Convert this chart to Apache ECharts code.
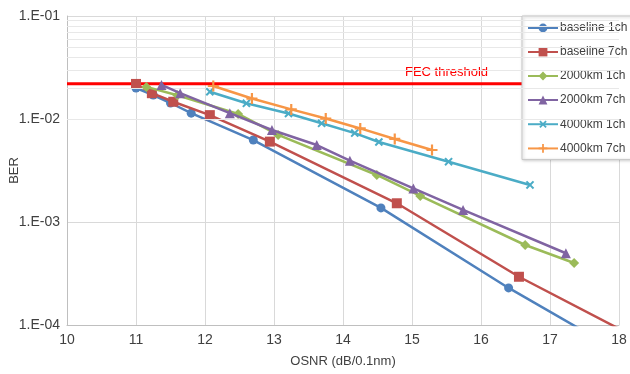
<!DOCTYPE html>
<html><head><meta charset="utf-8">
<script src="https://cdn.jsdelivr.net/npm/echarts/dist/echarts.min.js"></script>
<style>html,body{margin:0;padding:0;background:#fff}#c{width:630px;height:374px}</style>
</head><body><div id="c"></div>
<script>
// ---- data ----
const seriesNames = ['baseline 1ch','baseline 7ch','2000km 1ch','2000km 7ch','4000km 1ch','4000km 7ch'];
const baseline1chX = [11.0, 11.25, 11.5, 11.8, 12.7, 14.55, 16.4, 17.6];
const baseline1chY = [0.0200, 0.0171, 0.0143, 0.0114, 0.00625, 0.00137, 0.000229, 0.000079];
const baseline7chX = [11.0, 11.23, 11.54, 12.07, 12.94, 14.78, 16.55, 18.0];
const baseline7chY = [0.0219, 0.0178, 0.0147, 0.0109, 0.00603, 0.00152, 0.000294, 0.000092];
const km2000_1chX = [11.15, 11.6, 12.48, 13.06, 14.49, 15.12, 16.64, 17.35];
const km2000_1chY = [0.0205, 0.0170, 0.0112, 0.0070, 0.00286, 0.00179, 0.000598, 0.000400];
const km2000_7chX = [11.37, 11.64, 12.36, 12.97, 13.62, 14.10, 15.02, 15.74, 17.23];
const km2000_7chY = [0.0214, 0.0178, 0.0114, 0.00782, 0.00559, 0.00394, 0.00212, 0.00131, 0.000497];
const km4000_1chX = [12.07, 12.60, 13.21, 13.69, 14.17, 14.52, 15.53, 16.71];
const km4000_1chY = [0.0184, 0.0142, 0.0113, 0.00908, 0.0073, 0.00598, 0.00385, 0.00229];
const km4000_7chX = [12.12, 12.68, 13.25, 13.75, 14.25, 14.75, 15.29];
const km4000_7chY = [0.0209, 0.0158, 0.0124, 0.0101, 0.0081, 0.0064, 0.0050];
const fecThreshold = 0.022;
const fecLabel = 'FEC threshold';
const fecLabelX = 15.5;
const xTickLabels = ['10','11','12','13','14','15','16','17','18'];
const yTickLabels = ['1.E-04','1.E-03','1.E-02','1.E-01'];
const minorMultipliers = [2,3,4,5,6,7,8,9];
const minorDecades = [1e-4, 1e-3, 1e-2];

// ---- styling ----
const colors = ['#4F81BD','#C0504D','#9BBB59','#8064A2','#4BACC6','#F79646'];
const plusPath = 'path://M4,0H6V4H10V6H6V10H4V6H0V4H4Z';
const symbols = ['circle','rect','diamond','triangle', plusPath, plusPath];
const symbolRot = [0,0,0,0,45,0];
const symbolSizes = [9,10,10,10,10,11];
const xs = [baseline1chX, baseline7chX, km2000_1chX, km2000_7chX, km4000_1chX, km4000_7chX];
const ys = [baseline1chY, baseline7chY, km2000_1chY, km2000_7chY, km4000_1chY, km4000_7chY];
const FONT = 'Liberation Sans';

const minorVals = [];
minorDecades.forEach(d => minorMultipliers.forEach(m => minorVals.push(m * d)));

const series = [];
series.push({
  name: 'minorGrid', type: 'line', data: [], z: 1, silent: true,
  markLine: {
    silent: true, symbol: 'none', animation: false,
    label: {show: false},
    lineStyle: {color: '#e8e8e8', width: 1, type: 'solid'},
    data: minorVals.map(v => ({yAxis: v}))
  }
});
series.push({
  name: 'FEC', type: 'line', z: 2, silent: true,
  symbol: 'circle', symbolSize: 0,
  lineStyle: {color: '#FF0000', width: 3},
  itemStyle: {color: '#FF0000'},
  data: [
    [xTickLabels[0]*1, fecThreshold],
    {value: [fecLabelX, fecThreshold], label: {show: true, position: 'top', distance: 5, formatter: fecLabel, color: '#FF0000', fontSize: 13, fontFamily: FONT}},
    [xTickLabels[xTickLabels.length-1]*1, fecThreshold]
  ]
});
seriesNames.forEach((n, i) => {
  series.push({
    name: n, type: 'line', z: 3 + i,
    data: xs[i].map((x, k) => [x, ys[i][k]]),
    symbol: symbols[i], symbolSize: symbolSizes[i], symbolRotate: symbolRot[i],
    showAllSymbol: true,
    lineStyle: {color: colors[i], width: 2.5},
    itemStyle: {color: colors[i]},
    emphasis: {disabled: true},
    clip: true
  });
});

const chart = echarts.init(document.getElementById('c'), null, {renderer: 'canvas'});
chart.setOption({
  animation: false,
  backgroundColor: '#ffffff',
  textStyle: {fontFamily: FONT},
  grid: {left: 67, right: 11, top: 16, bottom: 49, containLabel: false, outerBoundsMode: 'none'},
  legend: {
    data: seriesNames,
    orient: 'vertical',
    left: 522, top: 16,
    itemWidth: 30, itemHeight: 11, itemGap: 12,
    padding: [6, 6, 5, 5],
    backgroundColor: '#ffffff',
    borderColor: '#c8c8c8', borderWidth: 1,
    shadowColor: 'rgba(0,0,0,0.25)', shadowBlur: 3, shadowOffsetX: 1, shadowOffsetY: 1,
    textStyle: {color: '#404040', fontSize: 12, fontFamily: FONT, padding: [0,0,0,-3]},
    selectedMode: false
  },
  xAxis: {
    type: 'value', min: 10, max: 18, interval: 1,
    name: 'OSNR (dB/0.1nm)', nameLocation: 'middle', nameGap: 30, nameMoveOverlap: false,
    nameTextStyle: {color: '#404040', fontSize: 13, fontFamily: FONT},
    axisLine: {show: true, lineStyle: {color: '#bfbfbf', width: 1}},
    axisTick: {show: false},
    axisLabel: {color: '#404040', fontSize: 14, fontFamily: FONT, margin: 8,
      formatter: v => xTickLabels[Math.round(v - 10)]},
    splitLine: {show: true, lineStyle: {color: '#d9d9d9', width: 1}}
  },
  yAxis: {
    type: 'log', logBase: 10, min: 1e-4, max: 1e-1,
    name: 'BER', nameLocation: 'middle', nameGap: 46, nameMoveOverlap: false,
    nameTextStyle: {color: '#404040', fontSize: 13, fontFamily: FONT},
    axisLine: {show: true, lineStyle: {color: '#bfbfbf', width: 1}},
    axisTick: {show: false},
    axisLabel: {color: '#404040', fontSize: 14, fontFamily: FONT, margin: 7,
      formatter: v => yTickLabels[Math.round(Math.log10(v)) + 4]},
    splitLine: {show: true, lineStyle: {color: '#d9d9d9', width: 1}}
  },
  series: series
});
</script></body></html>
